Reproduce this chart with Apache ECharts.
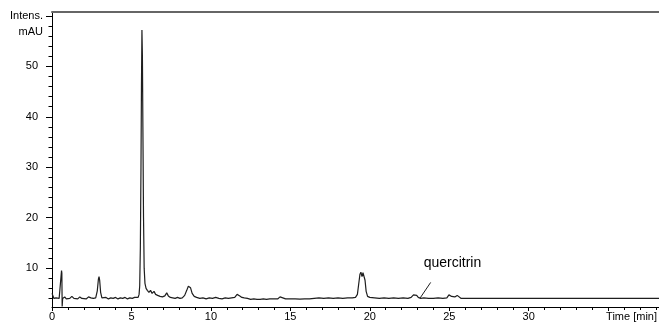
<!DOCTYPE html>
<html>
<head>
<meta charset="utf-8">
<script src="https://cdn.jsdelivr.net/npm/echarts@6/dist/echarts.min.js"></script>
<style>
  html, body { margin: 0; padding: 0; background: #fff; }
  #chart { width: 659px; height: 322px; }
</style>
</head>
<body>
<div id="chart"></div>
<script>
// retention time (min) and detector signal (mAU)
const timeMin = [
  0.00, 0.05, 0.12, 0.25, 0.35, 0.45, 0.55, 0.60, 0.62, 0.64, 0.67, 0.80, 0.90, 1.00, 1.12, 1.25, 1.38, 1.50,
  1.62, 1.75, 1.88, 2.00, 2.15, 2.30, 2.45, 2.60, 2.75, 2.85, 2.92, 2.96, 3.00, 3.06, 3.14, 3.25, 3.40, 3.55,
  3.70, 3.85, 4.00, 4.15, 4.30, 4.45, 4.60, 4.75, 4.90, 5.05, 5.20, 5.32, 5.42, 5.48, 5.52, 5.56, 5.60, 5.63,
  5.66, 5.69, 5.72, 5.76, 5.80, 5.85, 5.92, 6.00, 6.10, 6.20, 6.30, 6.42, 6.52, 6.65, 6.80, 6.95, 7.10, 7.22,
  7.32, 7.45, 7.60, 7.75, 7.90, 8.05, 8.20, 8.35, 8.48, 8.58, 8.65, 8.72, 8.82, 8.95, 9.10, 9.30, 9.50, 9.70,
  9.90, 10.10, 10.30, 10.50, 10.70, 10.90, 11.10, 11.30, 11.50, 11.65, 11.73, 11.82, 11.95, 12.10, 12.30, 12.50,
  12.70, 12.90, 13.10, 13.30, 13.50, 13.70, 13.90, 14.20, 14.35, 14.45, 14.70, 15.00, 15.30, 15.60, 15.90, 16.20,
  16.50, 16.80, 17.10, 17.40, 17.70, 18.00, 18.30, 18.60, 18.90, 19.10, 19.22, 19.30, 19.38, 19.44, 19.51, 19.57,
  19.64, 19.70, 19.77, 19.86, 20.00, 20.30, 20.60, 20.90, 21.20, 21.50, 21.80, 22.10, 22.40, 22.60, 22.75, 22.85,
  22.95, 23.05, 23.20, 23.40, 23.70, 24.00, 24.30, 24.60, 24.85, 24.98, 25.06, 25.15, 25.25, 25.35, 25.50, 25.60,
  25.75, 26.00, 26.50, 27.00, 27.80, 30.00, 34.00, 38.20
];
const signalMAU = [
  5.0, 4.6, 4.0, 4.1, 3.8, 4.0, 4.0, 9.5, 9.0, 2.4, 4.0, 4.3, 3.9, 4.2, 4.0, 4.4, 4.0, 4.1,
  3.9, 4.3, 4.0, 4.2, 3.9, 4.3, 4.1, 4.0, 4.1, 5.5, 7.8, 8.3, 7.6, 5.2, 4.1, 3.9, 4.2, 3.9,
  4.1, 4.0, 4.2, 3.9, 4.1, 4.0, 4.2, 3.9, 4.1, 4.0, 4.2, 4.0, 4.2, 4.8, 6.5, 14, 30, 46,
  57.2, 52, 38, 20, 10, 7.0, 6.0, 5.6, 5.2, 5.6, 5.0, 5.4, 4.8, 4.6, 4.4, 4.3, 4.5, 5.1,
  4.5, 4.2, 4.1, 4.0, 4.2, 4.0, 4.1, 4.6, 5.6, 6.4, 6.6, 6.1, 5.0, 4.4, 4.2, 4.0, 4.1, 3.9,
  4.1, 4.0, 4.2, 4.0, 3.9, 4.1, 4.0, 4.1, 4.2, 4.8, 4.9, 4.5, 4.2, 4.1, 4.0, 3.8,
  3.9, 3.8, 3.8, 3.9, 3.8, 3.9, 3.9, 3.9, 4.3, 4.0, 3.9, 3.9, 3.9, 3.85, 3.9, 3.9,
  4.0, 4.1, 4.0, 4.1, 4.0, 4.1, 4.0, 4.1, 4.1, 4.2, 4.8, 6.8, 8.8, 9.2, 8.3, 9.1,
  9.3, 7.6, 5.4, 4.4, 4.2, 4.1, 4.0, 4.1, 4.0, 4.1, 4.0, 4.1, 4.0, 4.2, 4.7, 5.0,
  4.6, 4.2, 4.0, 4.1, 4.0, 4.0, 4.1, 4.0, 4.1, 4.7, 4.9, 4.4, 4.2, 4.3, 4.6, 4.3,
  4.0, 4.0, 4.0, 4.0, 4.0, 4.0, 4.0, 4.0
];

const yLabelValues = [10, 20, 30, 40, 50];
const yMajorTicks = [10, 20, 30, 40, 50, 60];
const yMinorTicks = [4, 6, 8, 12, 14, 16, 18, 22, 24, 26, 28, 32, 34, 36, 38, 42, 44, 46, 48, 52, 54, 56, 58];

// peak label + leader line (data coords)
const peakName = 'quercitrin';
const peakLabelAt = [25.2, 11.0];
const peakLeader = [[23.83, 7.17], [23.17, 4.1]];

const X_MAX = 38.2;
const Y_MIN = 2.3;
const Y_MAX = 60.77;

const font = 'Liberation Sans, Arial, sans-serif';
const chart = echarts.init(document.getElementById('chart'));

const data = timeMin.map((t, i) => [t, signalMAU[i]]);

const option = {
  animation: false,
  backgroundColor: '#fff',
  grid: { left: 52, right: 0, top: 12, bottom: 15, containLabel: false, outerBoundsMode: 'none' },
  xAxis: [
    {
      type: 'value',
      min: 0,
      max: X_MAX,
      interval: 5,
      axisLine: { lineStyle: { color: '#000', width: 1 } },
      axisTick: { length: 4, lineStyle: { color: '#000' } },
      minorTick: { show: true, splitNumber: 5, length: 3, lineStyle: { color: '#000' } },
      splitLine: { show: false },
      axisLabel: {
        margin: 4,
        fontSize: 11,
        color: '#000',
        fontFamily: font,
        showMaxLabel: false,
        formatter: v => (v === 35 ? '' : v)
      },
      name: 'Time [min]',
      nameLocation: 'end',
      nameGap: 0,
      nameTextStyle: {
        align: 'right',
        verticalAlign: 'top',
        padding: [4, 2, 0, 0],
        fontSize: 11,
        color: '#000',
        fontFamily: font
      }
    },
    {
      // top frame
      type: 'value',
      position: 'top',
      min: 0,
      max: X_MAX,
      axisLine: { show: true, lineStyle: { color: '#666', width: 2 } },
      axisTick: { show: false },
      axisLabel: { show: false },
      splitLine: { show: false }
    }
  ],
  yAxis: [
    {
      type: 'value',
      min: Y_MIN,
      max: Y_MAX,
      axisLine: { show: true, lineStyle: { color: '#000', width: 1 } },
      axisTick: { show: true, customValues: yMajorTicks, length: 6, lineStyle: { color: '#000' } },
      axisLabel: {
        customValues: yLabelValues,
        margin: 14,
        fontSize: 11,
        color: '#000',
        fontFamily: font
      },
      splitLine: { show: false },
      name: 'Intens.\nmAU',
      nameLocation: 'end',
      nameGap: 4,
      nameTextStyle: {
        align: 'right',
        verticalAlign: 'top',
        padding: [0, 9, 0, 0],
        lineHeight: 16,
        fontSize: 11,
        color: '#000',
        fontFamily: font
      }
    },
    {
      // minor ticks
      type: 'value',
      position: 'left',
      min: Y_MIN,
      max: Y_MAX,
      axisLine: { show: false },
      axisTick: { show: true, customValues: yMinorTicks, length: 3.5, lineStyle: { color: '#000' } },
      axisLabel: { show: false },
      splitLine: { show: false }
    }
  ],
  series: [
    {
      type: 'line',
      data: data,
      showSymbol: false,
      symbol: 'none',
      lineStyle: { color: '#1e1e1e', width: 1.2 },
      markLine: {
        silent: true,
        symbol: 'none',
        label: { show: false },
        lineStyle: { color: '#1e1e1e', width: 1, type: 'solid' },
        data: [[{ coord: peakLeader[0] }, { coord: peakLeader[1] }]]
      },
      markPoint: {
        silent: true,
        symbol: 'circle',
        symbolSize: 0,
        label: {
          show: true,
          position: 'inside',
          formatter: peakName,
          fontSize: 14,
          color: '#000',
          fontFamily: font
        },
        data: [{ coord: peakLabelAt }]
      }
    }
  ]
};

chart.setOption(option);
</script>
</body>
</html>
